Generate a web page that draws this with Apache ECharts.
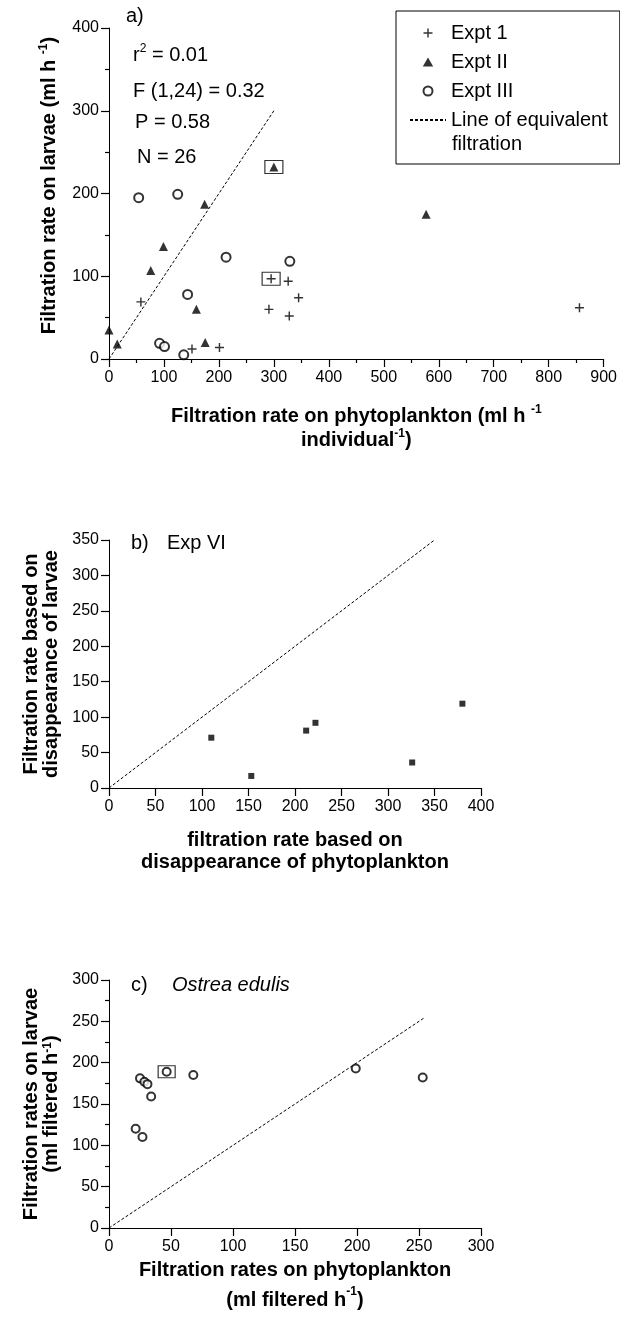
<!DOCTYPE html>
<html><head><meta charset="utf-8">
<script src="https://cdn.jsdelivr.net/npm/echarts@6/dist/echarts.min.js"></script>
<style>html,body{margin:0;padding:0;background:#fff}#c{width:620px;height:1319px}</style>
</head><body><div id="c"></div>
<script>
// ---------- data ----------
const exptI_a   = [[58,69],[151,12],[201,14],[295,97],[326,94],[345,74],[291,60],[328,52],[856,62]];
const exptII_a  = [[0,35],[15,18],[76,107],[99,136],[174,187],[159,60],[175,20],[300,232],[577,175]];
const exptIII_a = [[54,195],[125,199],[213,123],[329,118],[143,78],[92,19],[101,15],[136,5]];
const boxed_a   = [[300,232],[295,97]];
const equiv_a   = [[0,0],[300,300]];

const expVI_b   = [[110,71],[153,17],[212,81],[222,92],[326,36],[380,119]];
const equiv_b   = [[0,0],[350,350]];

const ostrea_c  = [[25,181],[28.5,177],[31,174],[34,159],[21.5,120],[27,110],[46.5,189],[68,185],[199,193],[253,182]];
const boxed_c   = [[46.5,189]];
const equiv_c   = [[0,0],[255,255]];

const xTicksA = [0,100,200,300,400,500,600,700,800,900];
const yTicksA = [0,100,200,300,400];
const xTicksB = [0,50,100,150,200,250,300,350,400];
const yTicksB = [0,50,100,150,200,250,300,350];
const xTicksC = [0,50,100,150,200,250,300];
const yTicksC = [0,50,100,150,200,250,300];

// ---------- style ----------
const FONT = 'Liberation Sans, Arial, sans-serif';
const PLUS = 'path://M4.2,0H5.8V4.2H10V5.8H5.8V10H4.2V5.8H0V4.2H4.2Z';
const TRI  = 'path://M5,0L10,8.66L0,8.66Z';

function titleRich(lh, pad) {
  const st = {
    color:'#000', fontFamily: FONT, fontSize: 20, fontWeight:'bold', lineHeight: lh,
    rich: {
      t: {fontFamily: FONT, fontSize: 20, fontWeight:'bold', color:'#000', lineHeight: lh},
      s: {fontFamily: FONT, fontSize: 12, fontWeight:'bold', color:'#000', verticalAlign:'top'}
    }
  };
  if (pad) st.padding = pad;
  return st;
}

function axis(gridIndex, ticks, minorSplit, extra, labelMargin) {
  return Object.assign({
    gridIndex, type:'value',
    min: ticks[0], max: ticks[ticks.length-1], interval: ticks[1]-ticks[0],
    axisLine: {show:true, onZero:false, lineStyle:{color:'#000', width:1}},
    axisTick: {show:true, length:8, lineStyle:{color:'#000', width:1.2}},
    minorTick:{show: !!minorSplit, splitNumber: minorSplit || 5, length:4, lineStyle:{color:'#000', width:1.2}},
    splitLine:{show:false},
    axisLabel:{show:true, color:'#000', fontSize:16, fontFamily: FONT, margin: labelMargin || 10}
  }, extra);
}

const lineStyleEq = {color:'#000', width:1, type:[3,2]};

const option = {
  animation: false,
  backgroundColor: '#fff',
  textStyle: {fontFamily: FONT},
  grid: [
    {left:109, top:28, width:496, height:331},
    {left:109, top:540, width:372, height:248},
    {left:109, top:980, width:372, height:248}
  ],
  xAxis: [
    axis(0, xTicksA, 2, {name:'{t|Filtration rate on phytoplankton (ml h }{s|-1}\n{t|individual}{s|-1}{t|)}',
      nameLocation:'middle', nameGap:45, nameTextStyle: titleRich(24)}, 11),
    axis(1, xTicksB, 0, {name:'{t|filtration rate based on}\n{t|disappearance of phytoplankton}',
      nameLocation:'middle', nameGap:41, nameTextStyle: titleRich(22)}, 11),
    axis(2, xTicksC, 0, {name:'{t|Filtration rates on phytoplankton}\n{t|(ml filtered h}{s|-1}{t|)}',
      nameLocation:'middle', nameGap:24, nameTextStyle: titleRich(30)}, 11)
  ],
  yAxis: [
    axis(0, yTicksA, 2, {name:'{t|Filtration rate on larvae (ml h }{s|-1}{t|)}',
      nameLocation:'middle', nameGap:47, nameRotate:90, nameTextStyle: titleRich(24, [0,0,0,16])}),
    axis(1, yTicksB, 0, {name:'{t|Filtration rate based on}\n{t|disappearance of larvae}',
      nameLocation:'middle', nameGap:47, nameRotate:90, nameTextStyle: titleRich(20)}),
    axis(2, yTicksC, 2, {name:'{t|Filtration rates on larvae}\n{t|(ml filtered h}{s|-1}{t|)}',
      nameLocation:'middle', nameGap:47, nameRotate:90, nameTextStyle: titleRich(20)})
  ],
  legend: {
    data: [
      {name:'Expt 1', icon: PLUS},
      {name:'Expt II', icon: TRI},
      {name:'Expt III'},
      {name:'Line of equivalent', itemStyle:{color:'rgba(0,0,0,0)', borderWidth:0, borderColor:'rgba(0,0,0,0)'}}
    ],
    orient:'vertical', left:396, top:11,
    padding:[12,12,34,13],
    itemWidth:36, itemHeight:9, itemGap:9,
    borderColor:'#000', borderWidth:1, backgroundColor:'#fff',
    textStyle:{fontFamily: FONT, fontSize:20, color:'#000'},
    selectedMode:false
  },
  series: [
    {type:'scatter', name:'Expt 1', xAxisIndex:0, yAxisIndex:0, data: exptI_a,
      symbol: PLUS, symbolSize:9, itemStyle:{color:'#000'}, z:3},
    {type:'scatter', name:'Expt II', xAxisIndex:0, yAxisIndex:0, data: exptII_a,
      symbol:'triangle', symbolSize:9, itemStyle:{color:'#000'}, z:3},
    {type:'scatter', name:'Expt III', xAxisIndex:0, yAxisIndex:0, data: exptIII_a,
      symbol:'emptyCircle', symbolSize:9, itemStyle:{color:'#000', borderWidth:1}, z:3},
    {type:'line', name:'Line of equivalent', xAxisIndex:0, yAxisIndex:0, data: equiv_a,
      symbol:'none', showSymbol:false, lineStyle: lineStyleEq, itemStyle:{color:'#000'}, z:2},
    {type:'scatter', name:'boxed a', xAxisIndex:0, yAxisIndex:0, data: boxed_a,
      symbol:'rect', symbolSize:[18,13], itemStyle:{color:'rgba(0,0,0,0)', borderColor:'#000', borderWidth:1}, z:2},

    {type:'scatter', name:'Exp VI', xAxisIndex:1, yAxisIndex:1, data: expVI_b,
      symbol:'rect', symbolSize:6, itemStyle:{color:'#000'}, z:3},
    {type:'line', name:'equiv b', xAxisIndex:1, yAxisIndex:1, data: equiv_b,
      symbol:'none', lineStyle: lineStyleEq, z:2},

    {type:'scatter', name:'Ostrea edulis', xAxisIndex:2, yAxisIndex:2, data: ostrea_c,
      symbol:'emptyCircle', symbolSize:8, itemStyle:{color:'#000', borderWidth:1}, z:3},
    {type:'scatter', name:'boxed c', xAxisIndex:2, yAxisIndex:2, data: boxed_c,
      symbol:'rect', symbolSize:[17,12], itemStyle:{color:'rgba(0,0,0,0)', borderColor:'#000', borderWidth:1}, z:2},
    {type:'line', name:'equiv c', xAxisIndex:2, yAxisIndex:2, data: equiv_c,
      symbol:'none', lineStyle: lineStyleEq, z:2}
  ],
  graphic: [
    {type:'text', x:452, y:144, z:100, style:{text:'filtration', fontFamily:FONT, fontSize:20, fill:'#000', verticalAlign:'middle'}},
    {type:'text', x:126, y:16, style:{text:'a)', fontFamily:FONT, fontSize:20, fill:'#000', verticalAlign:'middle'}},
    {type:'text', x:133, y:55, style:{text:'{n|r}{s|2}{n| = 0.01}', fill:'#000', verticalAlign:'middle',
      rich:{n:{fontFamily:FONT, fontSize:20, fill:'#000', lineHeight:24}, s:{fontFamily:FONT, fontSize:12, fill:'#000', verticalAlign:'top'}}}},
    {type:'text', x:133, y:91, style:{text:'F (1,24) = 0.32', fontFamily:FONT, fontSize:20, fill:'#000', verticalAlign:'middle'}},
    {type:'text', x:135, y:122, style:{text:'P = 0.58', fontFamily:FONT, fontSize:20, fill:'#000', verticalAlign:'middle'}},
    {type:'text', x:137, y:157, style:{text:'N = 26', fontFamily:FONT, fontSize:20, fill:'#000', verticalAlign:'middle'}},
    {type:'text', x:131, y:543, style:{text:'b)', fontFamily:FONT, fontSize:20, fill:'#000', verticalAlign:'middle'}},
    {type:'text', x:167, y:543, style:{text:'Exp VI', fontFamily:FONT, fontSize:20, fill:'#000', verticalAlign:'middle'}},
    {type:'text', x:131, y:985, style:{text:'c)', fontFamily:FONT, fontSize:20, fill:'#000', verticalAlign:'middle'}},
    {type:'text', x:172, y:985, style:{text:'Ostrea edulis', fontFamily:FONT, fontSize:20, fontStyle:'italic', fill:'#000', verticalAlign:'middle'}}
  ]
};

const chart = echarts.init(document.getElementById('c'), null, {renderer:'canvas'});
chart.setOption(option);
</script>
</body></html>
